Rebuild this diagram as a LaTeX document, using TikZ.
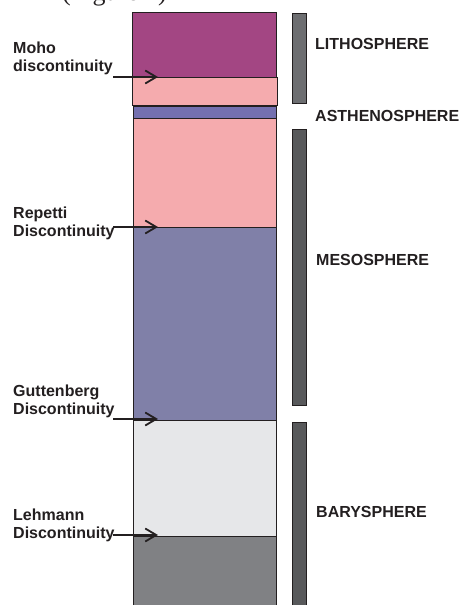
\documentclass[tikz,border=0pt]{standalone}
\usepackage{fontspec}
\setmainfont{Liberation Sans}
\newfontfamily\seriffont{Liberation Serif}
\usetikzlibrary{arrows.meta}
\definecolor{linecol}{HTML}{231F20}
\definecolor{crust}{HTML}{A34683}
\definecolor{pinklayer}{HTML}{F5ABAE}
\definecolor{bluelayer}{HTML}{7470B0}
\definecolor{purplelayer}{HTML}{8080A8}
\definecolor{lightlayer}{HTML}{E6E7E9}
\definecolor{darklayer}{HTML}{808184}
\definecolor{barlight}{HTML}{6D6E71}
\definecolor{bardark}{HTML}{58595B}
\begin{document}
\begin{tikzpicture}[x=1pt,y=-1pt,
  layer/.style={draw=linecol,line width=0.8pt},
  bar/.style={draw=linecol,line width=0.8pt},
  lbl/.style={font=\bfseries\fontsize{16}{18}\selectfont,text=linecol,anchor=base west,inner sep=0pt},
  disc/.style={font=\bfseries\fontsize{16}{17.5}\selectfont,text=linecol,align=left,anchor=base west,inner sep=0pt},
  ptr/.style={line width=1.8pt,draw=linecol,-{Straight Barb[length=11pt,width=13pt,line width=1.8pt]}}]
\useasboundingbox (0,0) rectangle (462,605);
\clip (0,0) rectangle (462,605);
\fill[white] (0,0) rectangle (462,605);
% cut-off caption at top (only its lower edge shows)
\node[font=\seriffont\fontsize{26}{28}\selectfont,anchor=base west,inner sep=0pt,text=linecol] (cap) at (62,0) {(Figure 1)};
% layers
\filldraw[layer,fill=crust] (132,12) rectangle (276,77);
\filldraw[layer,fill=pinklayer] (132,77) rectangle (277,105);
\filldraw[layer,fill=bluelayer] (133,106) rectangle (276,118);
\filldraw[layer,fill=pinklayer] (133,118) rectangle (276,227);
\filldraw[layer,fill=purplelayer] (133,227) rectangle (276,420);
\filldraw[layer,fill=lightlayer] (133,420) rectangle (276,536);
\filldraw[layer,fill=darklayer] (133,536) rectangle (276,615);
% side bars
\filldraw[bar,fill=barlight] (292,13) rectangle (306,103);
\filldraw[bar,fill=bardark] (292,129) rectangle (306,405);
\filldraw[bar,fill=bardark] (292,422) rectangle (306,615);
% right labels
\node[lbl] (litho) at (315,49) {LITHOSPHERE};
\node[lbl] (astheno) at (315,121) {ASTHENOSPHERE};
\node[lbl] (meso) at (316,265.5) {MESOSPHERE};
\node[lbl] (bary) at (316,517) {BARYSPHERE};
% discontinuity labels
\node[disc] (moho) at (13,71) {Moho\\discontinuity};
\node[disc] (repetti) at (13,236) {Repetti\\Discontinuity};
\node[disc] (gutt) at (13,414) {Guttenberg\\Discontinuity};
\node[disc] (lehm) at (13,538) {Lehmann\\Discontinuity};
% arrow coordinates
\coordinate (mohoS) at (113,77);   \coordinate (mohoE) at (158,77);
\coordinate (repS) at (113,227);   \coordinate (repE) at (158,227);
\coordinate (gutS) at (113,419);   \coordinate (gutE) at (158,419);
\coordinate (lehS) at (113,535);   \coordinate (lehE) at (158,535);
\draw[ptr] (mohoS) -- (mohoE);
\draw[ptr] (repS) -- (repE);
\draw[ptr] (gutS) -- (gutE);
\draw[ptr] (lehS) -- (lehE);
\end{tikzpicture}
\end{document}
